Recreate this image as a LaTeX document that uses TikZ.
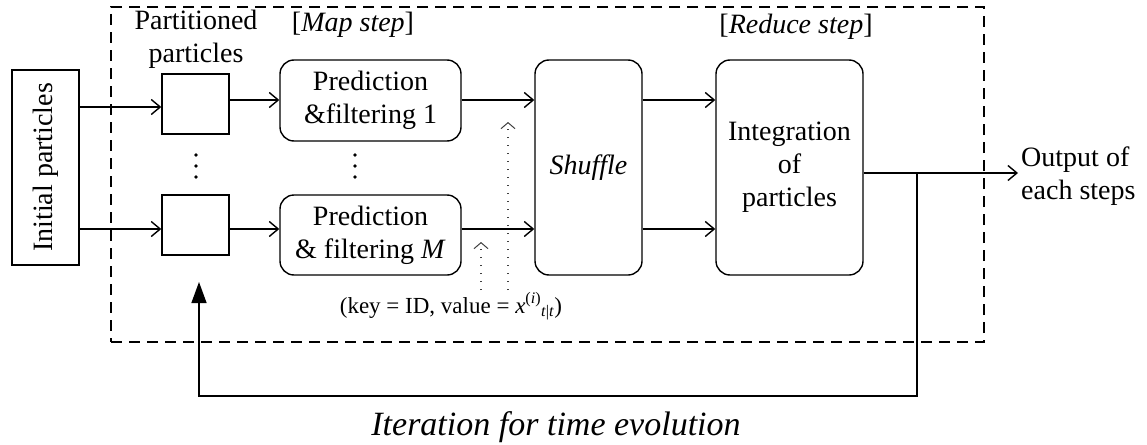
\documentclass[tikz,border=0pt]{standalone}
\usepackage{fontspec}
\setmainfont{Liberation Serif}
\usetikzlibrary{arrows.meta}
\begin{document}
\begin{tikzpicture}[x=1pt,y=-1pt,
  every node/.style={font=\fontsize{28}{33}\selectfont, inner sep=0pt},
  box/.style={draw, line width=1.4pt},
  rbox/.style={draw, line width=1.4pt, rounded corners=14pt},
  conn/.style={line width=1.4pt, -{Straight Barb[length=9pt,width=15pt]}},
  dotarrow/.style={line width=1.2pt, black!75, dash pattern=on 1.2pt off 6.8pt, -{Straight Barb[length=6pt,width=14pt,line width=1pt]}},
  fb/.style={line width=1.4pt, -{Triangle[length=21pt,width=15pt]}},
  frame/.style={draw, line width=1.3pt, dash pattern=on 11pt off 7pt},
  vdot/.style={circle, fill=black, minimum size=3.6pt, inner sep=0pt}
]
\useasboundingbox (0,0) rectangle (1147,444);

% dashed frame
\node[frame, minimum width=873pt, minimum height=335pt] (fr) at (547.5,174.5) {};

% boxes
\node[box, rotate=90, minimum width=195pt, minimum height=67pt] (init) at (45.5,167.5) {Initial particles};
\node[box, minimum width=67pt, minimum height=60pt] (p1) at (195.5,104) {};
\node[box, minimum width=67pt, minimum height=60pt] (p2) at (195.5,225) {};
\node[rbox, minimum width=181pt, minimum height=81pt, align=center] (pr1) at (370.5,100.5) {Prediction\\\&filtering 1};
\node[rbox, minimum width=181pt, minimum height=80pt, align=center] (pr2) at (370.5,235) {Prediction\\\& filtering \textit{M}};
\node[rbox, minimum width=107pt, minimum height=215pt] (shuf) at (588.5,167.5) {\textit{Shuffle}};
\node[rbox, minimum width=147pt, minimum height=215pt, align=center] (integ) at (789.5,167.5) {Integration\\of\\particles};

% labels
\node[align=center] (partlbl) at (196,39) {Partitioned\\particles};
\node (maplbl) at (353,25) {[\textit{Map step}]};
\node (redlbl) at (796,27) {[\textit{Reduce step}]};
\node[align=left, anchor=west] (out) at (1021,176) {Output of\\each steps};
\node[anchor=base, font=\fontsize{34}{40}\selectfont\itshape] (iter) at (556,435) {Iteration for time evolution};
\node[anchor=base, font=\fontsize{23}{27}\selectfont] (kv) at (451,313) {(key = ID, value = \textit{x}\textsuperscript{(\textit{i})}\textsubscript{\textit{t}|\textit{t}})};

% vertical ellipses
\node[vdot] (d1a) at (196,155) {};
\node[vdot] (d1b) at (196,166) {};
\node[vdot] (d1c) at (196,177) {};
\node[vdot] (d2a) at (355,155) {};
\node[vdot] (d2b) at (355,166) {};
\node[vdot] (d2c) at (355,177) {};

% rows
\coordinate (rA1) at (0,107);
\coordinate (rB1) at (0,100);
\coordinate (rA2) at (0,229);
\coordinate (rO) at (0,173);
\coordinate (bot) at (0,396);
\coordinate (dbase) at (0,290);
\coordinate (br) at (917,173);
\coordinate (fbtip) at (199,282);
\coordinate (da1) at (481,242);
\coordinate (da2) at (508,122);

% connectors
\draw[conn] (init.south |- rA1) -- (p1.west |- rA1);
\draw[conn] (p1.east |- rB1) -- (pr1.west |- rB1);
\draw[conn] (pr1.east |- rB1) -- (shuf.west |- rB1);
\draw[conn] (shuf.east |- rB1) -- (integ.west |- rB1);
\draw[conn] (init.south |- rA2) -- (p2.west |- rA2);
\draw[conn] (p2.east |- rA2) -- (pr2.west |- rA2);
\draw[conn] (pr2.east |- rA2) -- (shuf.west |- rA2);
\draw[conn] (shuf.east |- rA2) -- (integ.west |- rA2);
\draw[conn] (integ.east |- rO) -- ([xshift=-3pt]out.west |- rO);
\draw[fb] (br) -- (br |- bot) -- (fbtip |- bot) -- (fbtip);

% dotted arrows
\draw[dotarrow] (da1 |- dbase) -- (da1);
\draw[dotarrow] (da2 |- dbase) -- (da2);
\end{tikzpicture}
\end{document}
